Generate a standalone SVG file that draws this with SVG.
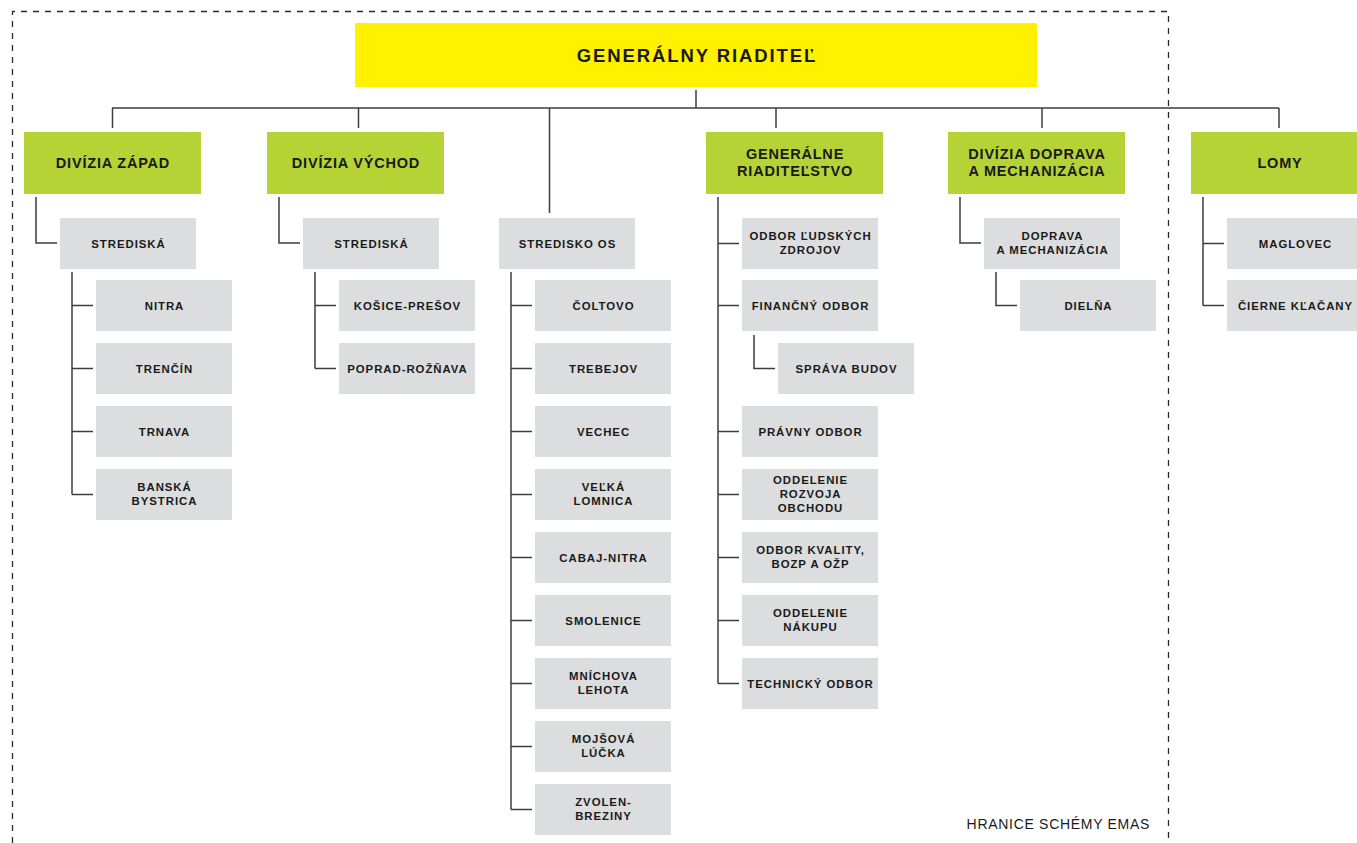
<svg xmlns="http://www.w3.org/2000/svg" width="1357" height="843" viewBox="0 0 1357 843">
<style>
  .bg{fill:#ffffff}
  .border{fill:none;stroke:#2b2b2b;stroke-width:1.3;stroke-dasharray:6 6}
  .top{fill:#fff100}
  .div{fill:#b5d335}
  .unit{fill:#dcddde}
  .conn path{fill:none;stroke:#3d3d3d;stroke-width:1.5}
  text{font-family:"Liberation Sans",Arial,Helvetica,sans-serif;font-weight:bold;fill:#1a1a1a;text-anchor:middle}
  .t0{font-size:18.5px;letter-spacing:1.9px}
  .t1{font-size:14.5px;letter-spacing:0.8px}
  .t2{font-size:11.4px;letter-spacing:0.95px}
  .note{font-size:14px;font-weight:normal;letter-spacing:0.7px;text-anchor:end}
</style>
<rect class="bg" x="0" y="0" width="1357" height="843"/>
<path class="border" d="M12.5 843 V11.5 H1168.5 V843"/>

<g id="connectors" class="conn">
  <path d="M696 90 V108"/>
  <path d="M112 108 H1279"/>
  <path d="M112.5 108 V128"/>
  <path d="M358.5 108 V128"/>
  <path d="M549.5 108 V213"/>
  <path d="M776 108 V128"/>
  <path d="M1042 108 V128"/>
  <path d="M1279 108 V128"/>
  <!-- Divízia Západ -->
  <path d="M36 197 V243 H57"/>
  <path d="M72 272 V494.5"/>
  <path d="M72 305.5 H93 M72 368.5 H93 M72 431.5 H93 M72 494.5 H93"/>
  <!-- Divízia Východ -->
  <path d="M279 197 V243 H300"/>
  <path d="M315 272 V368.5"/>
  <path d="M315 305.5 H336 M315 368.5 H336"/>
  <!-- Stredisko OS -->
  <path d="M511 272 V809.5"/>
  <path d="M511 305.5 H532 M511 368.5 H532 M511 431.5 H532 M511 494.5 H532 M511 557.5 H532 M511 620.5 H532 M511 683.5 H532 M511 746.5 H532 M511 809.5 H532"/>
  <!-- Generálne riaditeľstvo -->
  <path d="M718 197 V683.5"/>
  <path d="M718 243.5 H739 M718 305.5 H739 M718 431.5 H739 M718 494.5 H739 M718 557.5 H739 M718 620.5 H739 M718 683.5 H739"/>
  <path d="M754 335 V368.5 H775"/>
  <!-- Doprava -->
  <path d="M960 197 V243 H981"/>
  <path d="M996 272 V305.5 H1017"/>
  <!-- Lomy -->
  <path d="M1203 197 V305.5"/>
  <path d="M1203 243.5 H1224 M1203 305.5 H1224"/>
</g>

<g id="generalny-riaditel">
  <rect class="top" x="355" y="23" width="682" height="64"/>
  <text class="t0" x="697" y="61.5">GENERÁLNY RIADITEĽ</text>
</g>

<g id="divizia-zapad">
  <rect class="div" x="24" y="132" width="177" height="62"/>
  <text class="t1" x="113" y="168">DIVÍZIA ZÁPAD</text>
</g>
<g id="divizia-vychod">
  <rect class="div" x="267" y="132" width="177" height="62"/>
  <text class="t1" x="356" y="168">DIVÍZIA VÝCHOD</text>
</g>
<g id="generalne-riaditelstvo">
  <rect class="div" x="706" y="132" width="177" height="62"/>
  <text class="t1" x="795" y="159">GENERÁLNE</text>
  <text class="t1" x="795" y="175.5">RIADITEĽSTVO</text>
</g>
<g id="divizia-doprava">
  <rect class="div" x="948" y="132" width="177" height="62"/>
  <text class="t1" x="1037" y="159">DIVÍZIA DOPRAVA</text>
  <text class="t1" x="1037" y="175.5">A MECHANIZÁCIA</text>
</g>
<g id="lomy">
  <rect class="div" x="1191" y="132" width="177" height="62"/>
  <text class="t1" x="1280" y="168">LOMY</text>
</g>

<!-- Západ -->
<g id="strediska-zapad">
  <rect class="unit" x="60" y="218" width="136" height="51"/>
  <text class="t2" x="128.5" y="247.5">STREDISKÁ</text>
</g>
<g id="nitra">
  <rect class="unit" x="96" y="280" width="136" height="51"/>
  <text class="t2" x="164.5" y="309.5">NITRA</text>
</g>
<g id="trencin">
  <rect class="unit" x="96" y="343" width="136" height="51"/>
  <text class="t2" x="164.5" y="372.5">TRENČÍN</text>
</g>
<g id="trnava">
  <rect class="unit" x="96" y="406" width="136" height="51"/>
  <text class="t2" x="164.5" y="435.5">TRNAVA</text>
</g>
<g id="banska-bystrica">
  <rect class="unit" x="96" y="469" width="136" height="51"/>
  <text class="t2" x="164.5" y="491">BANSKÁ</text>
  <text class="t2" x="164.5" y="505">BYSTRICA</text>
</g>

<!-- Východ -->
<g id="strediska-vychod">
  <rect class="unit" x="303" y="218" width="136" height="51"/>
  <text class="t2" x="371.5" y="247.5">STREDISKÁ</text>
</g>
<g id="kosice-presov">
  <rect class="unit" x="339" y="280" width="136" height="51"/>
  <text class="t2" x="407.5" y="309.5">KOŠICE-PREŠOV</text>
</g>
<g id="poprad-roznava">
  <rect class="unit" x="339" y="343" width="136" height="51"/>
  <text class="t2" x="407.5" y="372.5">POPRAD-ROŽŇAVA</text>
</g>

<!-- Stredisko OS -->
<g id="stredisko-os">
  <rect class="unit" x="499" y="218" width="136" height="51"/>
  <text class="t2" x="567.5" y="247.5">STREDISKO OS</text>
</g>
<g id="coltovo">
  <rect class="unit" x="535" y="280" width="136" height="51"/>
  <text class="t2" x="603.5" y="309.5">ČOLTOVO</text>
</g>
<g id="trebejov">
  <rect class="unit" x="535" y="343" width="136" height="51"/>
  <text class="t2" x="603.5" y="372.5">TREBEJOV</text>
</g>
<g id="vechec">
  <rect class="unit" x="535" y="406" width="136" height="51"/>
  <text class="t2" x="603.5" y="435.5">VECHEC</text>
</g>
<g id="velka-lomnica">
  <rect class="unit" x="535" y="469" width="136" height="51"/>
  <text class="t2" x="603.5" y="491">VEĽKÁ</text>
  <text class="t2" x="603.5" y="505">LOMNICA</text>
</g>
<g id="cabaj-nitra">
  <rect class="unit" x="535" y="532" width="136" height="51"/>
  <text class="t2" x="603.5" y="561.5">CABAJ-NITRA</text>
</g>
<g id="smolenice">
  <rect class="unit" x="535" y="595" width="136" height="51"/>
  <text class="t2" x="603.5" y="624.5">SMOLENICE</text>
</g>
<g id="mnichova-lehota">
  <rect class="unit" x="535" y="658" width="136" height="51"/>
  <text class="t2" x="603.5" y="680">MNÍCHOVA</text>
  <text class="t2" x="603.5" y="694">LEHOTA</text>
</g>
<g id="mojsova-lucka">
  <rect class="unit" x="535" y="721" width="136" height="51"/>
  <text class="t2" x="603.5" y="743">MOJŠOVÁ</text>
  <text class="t2" x="603.5" y="757">LÚČKA</text>
</g>
<g id="zvolen-breziny">
  <rect class="unit" x="535" y="784" width="136" height="51"/>
  <text class="t2" x="603.5" y="806">ZVOLEN-</text>
  <text class="t2" x="603.5" y="820">BREZINY</text>
</g>

<!-- Generálne riaditeľstvo -->
<g id="odbor-ludskych-zdrojov">
  <rect class="unit" x="742" y="218" width="136" height="51"/>
  <text class="t2" x="810.5" y="240">ODBOR ĽUDSKÝCH</text>
  <text class="t2" x="810.5" y="254">ZDROJOV</text>
</g>
<g id="financny-odbor">
  <rect class="unit" x="742" y="280" width="136" height="51"/>
  <text class="t2" x="810.5" y="309.5">FINANČNÝ ODBOR</text>
</g>
<g id="sprava-budov">
  <rect class="unit" x="778" y="343" width="136" height="51"/>
  <text class="t2" x="846.5" y="372.5">SPRÁVA BUDOV</text>
</g>
<g id="pravny-odbor">
  <rect class="unit" x="742" y="406" width="136" height="51"/>
  <text class="t2" x="810.5" y="435.5">PRÁVNY ODBOR</text>
</g>
<g id="oddelenie-rozvoja-obchodu">
  <rect class="unit" x="742" y="469" width="136" height="51"/>
  <text class="t2" x="810.5" y="483.5">ODDELENIE</text>
  <text class="t2" x="810.5" y="497.5">ROZVOJA</text>
  <text class="t2" x="810.5" y="511.5">OBCHODU</text>
</g>
<g id="odbor-kvality">
  <rect class="unit" x="742" y="532" width="136" height="51"/>
  <text class="t2" x="810.5" y="554">ODBOR KVALITY,</text>
  <text class="t2" x="810.5" y="568">BOZP A OŽP</text>
</g>
<g id="oddelenie-nakupu">
  <rect class="unit" x="742" y="595" width="136" height="51"/>
  <text class="t2" x="810.5" y="617">ODDELENIE</text>
  <text class="t2" x="810.5" y="631">NÁKUPU</text>
</g>
<g id="technicky-odbor">
  <rect class="unit" x="742" y="658" width="136" height="51"/>
  <text class="t2" x="810.5" y="687.5">TECHNICKÝ ODBOR</text>
</g>

<!-- Doprava -->
<g id="doprava-a-mechanizacia">
  <rect class="unit" x="984" y="218" width="136" height="51"/>
  <text class="t2" x="1052.5" y="240">DOPRAVA</text>
  <text class="t2" x="1052.5" y="254">A MECHANIZÁCIA</text>
</g>
<g id="dielna">
  <rect class="unit" x="1020" y="280" width="136" height="51"/>
  <text class="t2" x="1088.5" y="309.5">DIELŇA</text>
</g>

<!-- Lomy -->
<g id="maglovec">
  <rect class="unit" x="1227" y="218" width="136" height="51"/>
  <text class="t2" x="1295.5" y="247.5">MAGLOVEC</text>
</g>
<g id="cierne-klacany">
  <rect class="unit" x="1227" y="280" width="136" height="51"/>
  <text class="t2" x="1295.5" y="309.5">ČIERNE KĽAČANY</text>
</g>

<text class="note" x="1150" y="828.5">HRANICE SCHÉMY EMAS</text>
</svg>
